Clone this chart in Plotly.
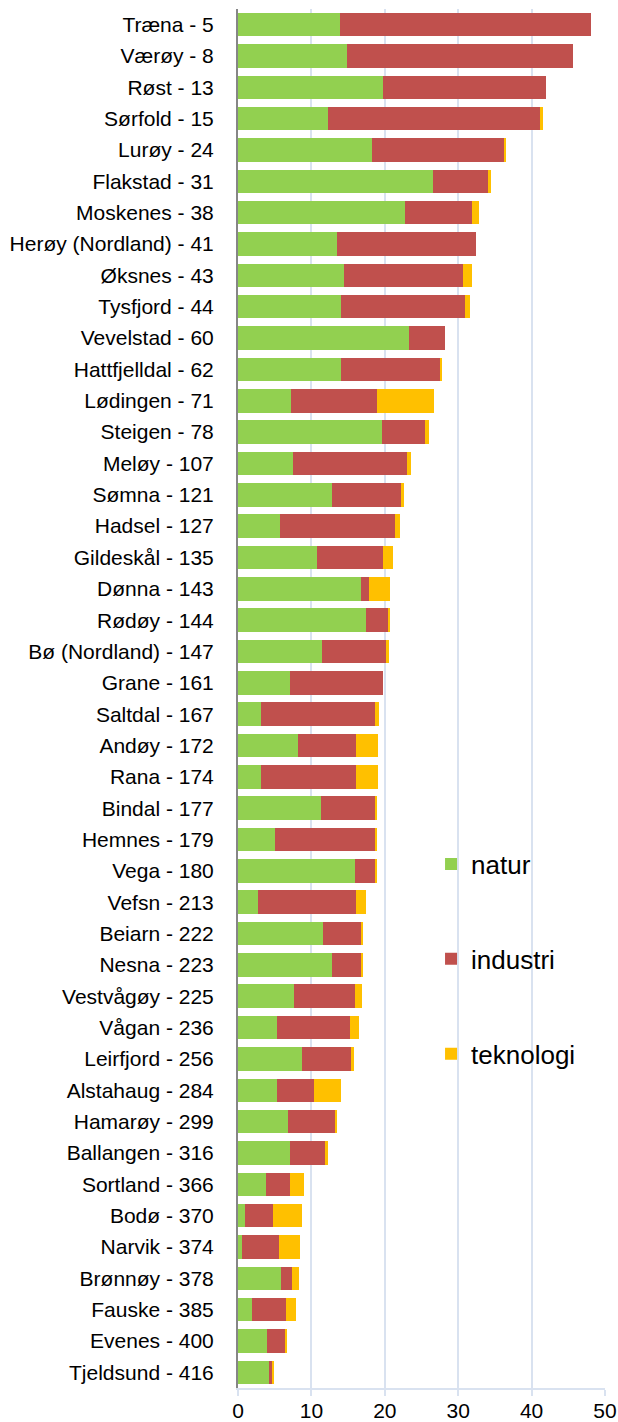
import plotly.graph_objects as go

kommuner = ["Træna - 5", "Værøy - 8", "Røst - 13", "Sørfold - 15", "Lurøy - 24",
            "Flakstad - 31", "Moskenes - 38", "Herøy (Nordland) - 41", "Øksnes - 43",
            "Tysfjord - 44", "Vevelstad - 60", "Hattfjelldal - 62", "Lødingen - 71",
            "Steigen - 78", "Meløy - 107", "Sømna - 121", "Hadsel - 127", "Gildeskål - 135",
            "Dønna - 143", "Rødøy - 144", "Bø (Nordland) - 147", "Grane - 161",
            "Saltdal - 167", "Andøy - 172", "Rana - 174", "Bindal - 177", "Hemnes - 179",
            "Vega - 180", "Vefsn - 213", "Beiarn - 222", "Nesna - 223", "Vestvågøy - 225",
            "Vågan - 236", "Leirfjord - 256", "Alstahaug - 284", "Hamarøy - 299",
            "Ballangen - 316", "Sortland - 366", "Bodø - 370", "Narvik - 374",
            "Brønnøy - 378", "Fauske - 385", "Evenes - 400", "Tjeldsund - 416"]

natur = [13.9, 14.8, 19.7, 12.2, 18.2, 26.5, 22.7, 13.5, 14.4, 14.0, 23.3, 14.1, 7.2,
         19.6, 7.5, 12.85, 5.75, 10.7, 16.7, 17.4, 11.5, 7.1, 3.2, 8.2, 3.1, 11.35, 5.1,
         16.0, 2.75, 11.6, 12.8, 7.6, 5.35, 8.75, 5.35, 6.85, 7.1, 3.8, 1.0, 0.55, 5.85,
         1.9, 4.0, 4.25]

industri = [34.2, 30.9, 22.3, 28.9, 18.0, 7.6, 9.2, 18.9, 16.2, 16.9, 4.9, 13.5, 11.8,
            5.9, 15.55, 9.35, 15.65, 9.05, 1.2, 3.1, 8.7, 12.7, 15.5, 7.9, 13.0, 7.45,
            13.5, 2.6, 13.35, 5.2, 4.0, 8.4, 9.95, 6.65, 5.05, 6.4, 4.85, 3.25, 3.8, 5.1,
            1.55, 4.7, 2.45, 0.5]

teknologi = [0, 0, 0, 0.4, 0.3, 0.4, 1.0, 0, 1.3, 0.7, 0, 0.15, 7.7, 0.5, 0.5, 0.35,
             0.7, 1.35, 2.8, 0.25, 0.4, 0, 0.5, 3.0, 3.0, 0.2, 0.4, 0.35, 1.4, 0.25, 0.25,
             0.95, 1.2, 0.4, 3.65, 0.25, 0.25, 1.95, 3.9, 2.75, 0.95, 1.25, 0.2, 0.15]

x_ticks = [0, 10, 20, 30, 40, 50]

series = [("natur", natur, "#92D050"),
          ("industri", industri, "#C0504D"),
          ("teknologi", teknologi, "#FFC000")]

fig = go.Figure()
for name, vals, col in series:
    fig.add_trace(go.Bar(
        y=kommuner, x=vals, name=name, orientation="h",
        marker=dict(color=col, line=dict(width=0)),
        legendgroup=name,
    ))

grid_col = "#D9E2F0"
fig.update_layout(
    barmode="stack",
    bargap=0.25,
    width=618, height=1422,
    margin=dict(l=238, r=13, t=9, b=34, autoexpand=False),
    paper_bgcolor="white", plot_bgcolor="white",
    font=dict(family="Arial, Liberation Sans, sans-serif", size=21, color="black"),
    legend=dict(
        x=0.526, xanchor="left", y=0.311, yanchor="middle",
        traceorder="grouped", tracegroupgap=58,
        font=dict(size=26, color="black"),
        bgcolor="rgba(0,0,0,0)",
    ),
    xaxis=dict(
        range=[0, 50], tickvals=x_ticks, automargin=False,
        showgrid=True, gridcolor=grid_col, gridwidth=1.5,
        showline=True, linecolor=grid_col, linewidth=1.5,
        ticks="outside", ticklen=6, tickcolor=grid_col, tickwidth=1.5,
        ticklabelstandoff=-3,
        zeroline=False, tickfont=dict(size=21),
    ),
    yaxis=dict(
        autorange="reversed", categoryorder="array", categoryarray=kommuner,
        automargin=False,
        showgrid=False, showline=True, linecolor="#868686", linewidth=2,
        ticks="", ticklabelstandoff=18, tickfont=dict(size=21),
    ),
)

fig.write_html(
    "out.html",
    config={"displayModeBar": False},
    post_script="document.body.style.margin='0';document.body.style.overflow='hidden';",
)
